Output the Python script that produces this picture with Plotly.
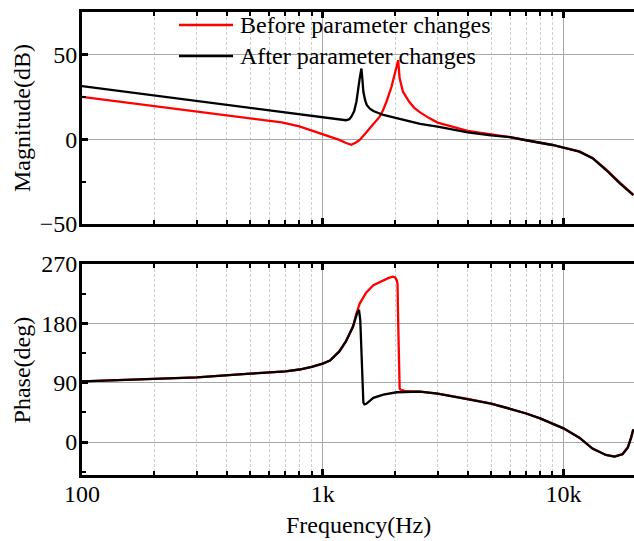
import plotly.graph_objects as go

# ---------------- data ----------------
freq_mag_before = [100, 200, 300, 500, 676, 800, 883, 972, 1072, 1172, 1250, 1315, 1380, 1424, 1500,
                   1567, 1650, 1724, 1780, 1839, 1930, 1994, 2030, 2058, 2075, 2087, 2154, 2287, 2400,
                   2537, 2780, 3000, 4000, 5000, 6000, 7000, 8000, 9000, 10000, 11640, 13200, 15000,
                   17100, 19500]
mag_before = [25.0, 19.6, 16.3, 12.4, 9.9, 7.6, 5.6, 3.5, 1.4, -0.4, -2.2, -3.3, -1.8, -0.4, 3.2,
              6.5, 10.2, 13.3, 17.0, 22.1, 30.9, 39.8, 44.0, 46.6, 40.0, 35.9, 28.0, 22.1, 18.5,
              15.8, 12.3, 9.8, 4.9, 2.9, 1.2, -0.6, -2.0, -3.4, -4.9, -7.2, -11.0, -17.6,
              -25.4, -32.6]

freq_mag_after = [100, 200, 300, 500, 800, 1000, 1072, 1213, 1248, 1290, 1315, 1350, 1380, 1424, 1448,
                  1462, 1475, 1500, 1523, 1570, 1623, 1786, 2029, 2537, 3000, 4000, 5000, 6000, 7000,
                  8000, 9000, 10000, 11640, 13200, 15000, 17100, 19500]
mag_after = [31.3, 25.8, 22.5, 18.4, 14.7, 13.0, 12.3, 11.3, 11.2, 11.8, 13.3, 16.5, 22.1, 35.9, 41.7,
             35.0, 28.0, 23.0, 20.2, 18.0, 16.6, 14.3, 12.3, 9.0, 7.4, 4.1, 2.3, 1.2, -0.6,
             -2.0, -3.4, -4.9, -7.3, -11.2, -18.0, -25.9, -33.0]

freq_ph_before = [100, 200, 300, 500, 700, 800, 900, 1000, 1072, 1172, 1248, 1336, 1358, 1380, 1424,
                  1517, 1623, 1786, 1880, 1957, 2000, 2029, 2045, 2058, 2071, 2087, 2101, 2224, 2537,
                  3000, 4000, 5000, 6000, 7000, 8000, 9000, 10000, 11640, 13200, 15000, 16300,
                  17600, 18500, 19100, 19500]
ph_before = [92.1, 95.7, 98.2, 103.7, 107.2, 110.0, 114.0, 119.0, 123.5, 137.4, 152.5, 175.2, 185.3,
             195.0, 210.0, 227.0, 238.0, 245.7, 249.0, 250.7, 249.5, 245.7, 240.0, 180.0, 92.0,
             81.0, 79.6, 77.0, 76.5, 73.5, 65.5, 58.4, 50.4, 43.3, 35.8, 28.2, 20.7, 6.6, -10.0,
             -19.6, -22.0, -18.0, -8.0, 6.6, 19.2]

freq_ph_after = [100, 200, 300, 500, 700, 800, 900, 1000, 1072, 1172, 1248, 1336, 1358, 1380, 1400,
                 1415, 1432, 1448, 1462, 1475, 1490, 1517, 1623, 1786, 2029, 2537, 3000, 4000, 5000,
                 6000, 7000, 8000, 9000, 10000, 11640, 13200, 15000, 16300, 17600, 18500, 19100,
                 19500]
ph_after = [92.1, 95.7, 98.2, 103.7, 107.2, 110.0, 114.0, 119.0, 123.5, 137.4, 152.5, 175.2, 185.3,
            192.0, 198.0, 200.4, 185.0, 142.0, 82.0, 60.0, 57.0, 58.0, 67.0, 72.0, 75.5, 76.5, 73.5,
            65.5, 58.4, 50.4, 43.3, 35.8, 28.2, 20.7, 6.6, -10.0, -19.6, -22.0, -18.6, -8.5, 6.6,
            19.2]

series_names = ["Before parameter changes", "After parameter changes"]
series_colors = ["#ff0000", "#000000"]

x_tickvals = [100, 1000, 10000]
x_ticktext = ["100", "1k", "10k"]
x_minor = [200, 300, 400, 500, 600, 700, 800, 900, 2000, 3000, 4000, 5000, 6000, 7000, 8000, 9000]
mag_ticks = [-50, 0, 50]
ph_ticks = [0, 90, 180, 270]

# ---------------- figure ----------------
FONT = "Liberation Serif, Times New Roman, serif"
fig = go.Figure()

for fx, fy, i, ax in [(freq_mag_before, mag_before, 0, ("x", "y")),
                      (freq_mag_after, mag_after, 1, ("x", "y")),
                      (freq_ph_before, ph_before, 0, ("x2", "y2")),
                      (freq_ph_after, ph_after, 1, ("x2", "y2"))]:
    fig.add_trace(go.Scatter(x=fx, y=fy, mode="lines", name=series_names[i],
                             line=dict(color=series_colors[i], width=2.3),
                             xaxis=ax[0], yaxis=ax[1], showlegend=False))

xcommon = dict(type="log", range=[2, 4.293], showline=True, linecolor="black", linewidth=3,
               mirror="allticks", ticks="inside", ticklen=6, tickwidth=3, tickcolor="black",
               tickvals=x_tickvals, ticktext=x_ticktext, showgrid=True, gridcolor="#a8a8a8",
               gridwidth=1, zeroline=False,
               minor=dict(tickvals=x_minor, ticks="inside", ticklen=4, tickwidth=2,
                          tickcolor="black", showgrid=True, gridcolor="#d0d0d0",
                          griddash="3px,2px", gridwidth=1),
               tickfont=dict(family=FONT, size=24, color="black"))
ycommon = dict(showline=True, linecolor="black", linewidth=3, ticks="inside", ticklen=6,
               tickwidth=3, tickcolor="black", showgrid=True, gridcolor="#a8a8a8", gridwidth=1,
               zeroline=False, tickfont=dict(family=FONT, size=24, color="black"),
               ticklabelstandoff=-3)

fig.update_layout(
    width=634, height=541,
    margin=dict(l=82, r=0, t=12, b=66),
    paper_bgcolor="white", plot_bgcolor="white",
    xaxis=dict(xcommon, domain=[0, 1], anchor="y", showticklabels=False),
    yaxis=dict(ycommon, domain=[0.542, 1.0], anchor="x", range=[-50, 75], tickvals=mag_ticks,
               minor=dict(tickvals=[-25, 25], ticks="inside", ticklen=4, tickwidth=2,
                          tickcolor="black", showgrid=False)),
    xaxis2=dict(xcommon, domain=[0, 1], anchor="y2", ticklabelstandoff=-5),
    yaxis2=dict(ycommon, domain=[0, 0.4557], anchor="x2", range=[-50, 270], tickvals=ph_ticks,
                minor=dict(tickvals=[-45, 45, 135, 225], ticks="inside", ticklen=4, tickwidth=2,
                           tickcolor="black", showgrid=False)),
    showlegend=False,
)

# manual legend (line samples + labels)
leg_y = [0.9719, 0.905]
for name, color, yy in zip(series_names, series_colors, leg_y):
    fig.add_shape(type="line", xref="paper", yref="paper", x0=0.1757, x1=0.2736, y0=yy, y1=yy,
                  line=dict(color=color, width=2.3))
    fig.add_annotation(xref="paper", yref="paper", x=0.2826, y=yy, text=name, showarrow=False,
                       xanchor="left", yanchor="middle",
                       font=dict(family=FONT, size=24, color="black"))

# axis titles
fig.add_annotation(xref="paper", yref="paper", x=-0.1087, y=0.771, text="Magnitude(dB)",
                   textangle=-90, showarrow=False, xanchor="center", yanchor="middle",
                   font=dict(family=FONT, size=24, color="black"))
fig.add_annotation(xref="paper", yref="paper", x=-0.107, y=0.2279, text="Phase(deg)",
                   textangle=-90, showarrow=False, xanchor="center", yanchor="middle",
                   font=dict(family=FONT, size=24, color="black"))
fig.add_annotation(xref="paper", yref="paper", x=0.5, y=-0.108, text="Frequency(Hz)",
                   showarrow=False, xanchor="center", yanchor="middle",
                   font=dict(family=FONT, size=24, color="black"))

fig.write_html("out.html")
